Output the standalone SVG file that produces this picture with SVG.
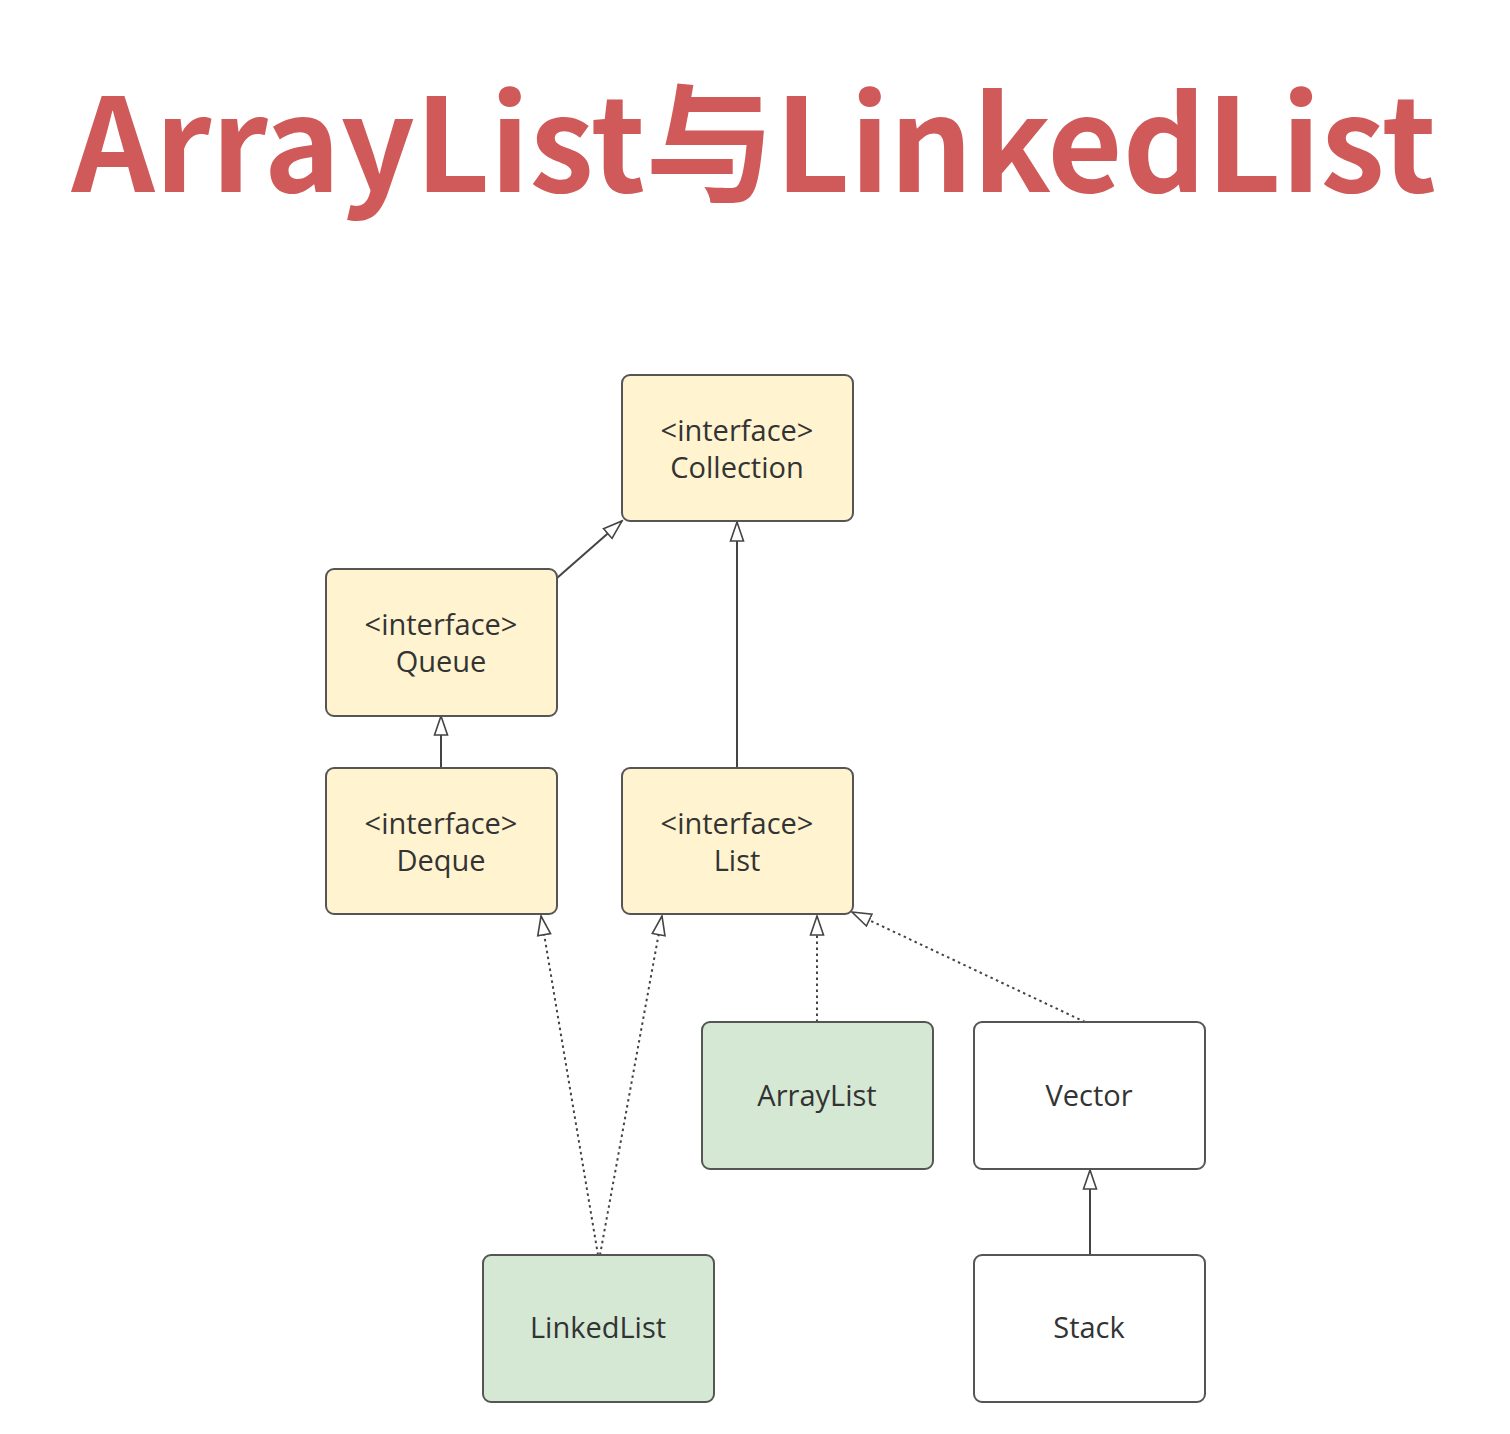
<svg xmlns="http://www.w3.org/2000/svg" width="1510" height="1434" viewBox="0 0 1510 1434">
<defs>
<marker id="tri" markerWidth="22" markerHeight="16" refX="20" refY="8" orient="auto" markerUnits="userSpaceOnUse">
<path d="M1,1.5 L20,8 L1,14.5 Z" fill="#fff" stroke="#444" stroke-width="1.6"/>
</marker>
</defs>
<style>
.title{font-family:"Noto Sans CJK SC","Open Sans",sans-serif;font-weight:bold;font-size:130px;fill:#d05a5a}
.box{stroke:#555;stroke-width:2}
.iface{fill:#fff4cf}
.cls{fill:#d5e8d4}
.plain{fill:#fff}
.t{font-family:"Open Sans","Noto Sans",sans-serif;font-size:29px;fill:#333;text-anchor:middle}
.e{fill:none;stroke:#444;stroke-width:2}
.d{stroke-dasharray:2.5 3.5}
</style>
<rect width="1510" height="1434" fill="#fff"/>
<text class="title" x="754" y="192" text-anchor="middle" textLength="1365" lengthAdjust="spacingAndGlyphs">ArrayList与LinkedList</text>
<g id="connectors">
<path class="e" d="M557,578 L622,521" marker-end="url(#tri)"/>
<path class="e" d="M737,768 L737,522" marker-end="url(#tri)"/>
<path class="e" d="M441,768 L441,716" marker-end="url(#tri)"/>
<path class="e" d="M1090,1255 L1090,1170" marker-end="url(#tri)"/>
<path class="e d" d="M598,1255 L541,916" marker-end="url(#tri)"/>
<path class="e d" d="M600,1255 L662,916" marker-end="url(#tri)"/>
<path class="e d" d="M817,1022 L817,916" marker-end="url(#tri)"/>
<path class="e d" d="M1085,1022 L852,912" marker-end="url(#tri)"/>
</g>
<g id="collection"><rect class="box iface" x="622" y="375" width="231" height="146" rx="8"/><text class="t" x="737" y="441">&lt;interface&gt;</text><text class="t" x="737" y="478">Collection</text></g>
<g id="queue"><rect class="box iface" x="326" y="569" width="231" height="147" rx="8"/><text class="t" x="441" y="635">&lt;interface&gt;</text><text class="t" x="441" y="672">Queue</text></g>
<g id="deque"><rect class="box iface" x="326" y="768" width="231" height="146" rx="8"/><text class="t" x="441" y="834">&lt;interface&gt;</text><text class="t" x="441" y="871">Deque</text></g>
<g id="list"><rect class="box iface" x="622" y="768" width="231" height="146" rx="8"/><text class="t" x="737" y="834">&lt;interface&gt;</text><text class="t" x="737" y="871">List</text></g>
<g id="arraylist"><rect class="box cls" x="702" y="1022" width="231" height="147" rx="8"/><text class="t" x="817" y="1106">ArrayList</text></g>
<g id="vector"><rect class="box plain" x="974" y="1022" width="231" height="147" rx="8"/><text class="t" x="1089" y="1106">Vector</text></g>
<g id="linkedlist"><rect class="box cls" x="483" y="1255" width="231" height="147" rx="8"/><text class="t" x="598" y="1338">LinkedList</text></g>
<g id="stack"><rect class="box plain" x="974" y="1255" width="231" height="147" rx="8"/><text class="t" x="1089" y="1338">Stack</text></g>
</svg>
